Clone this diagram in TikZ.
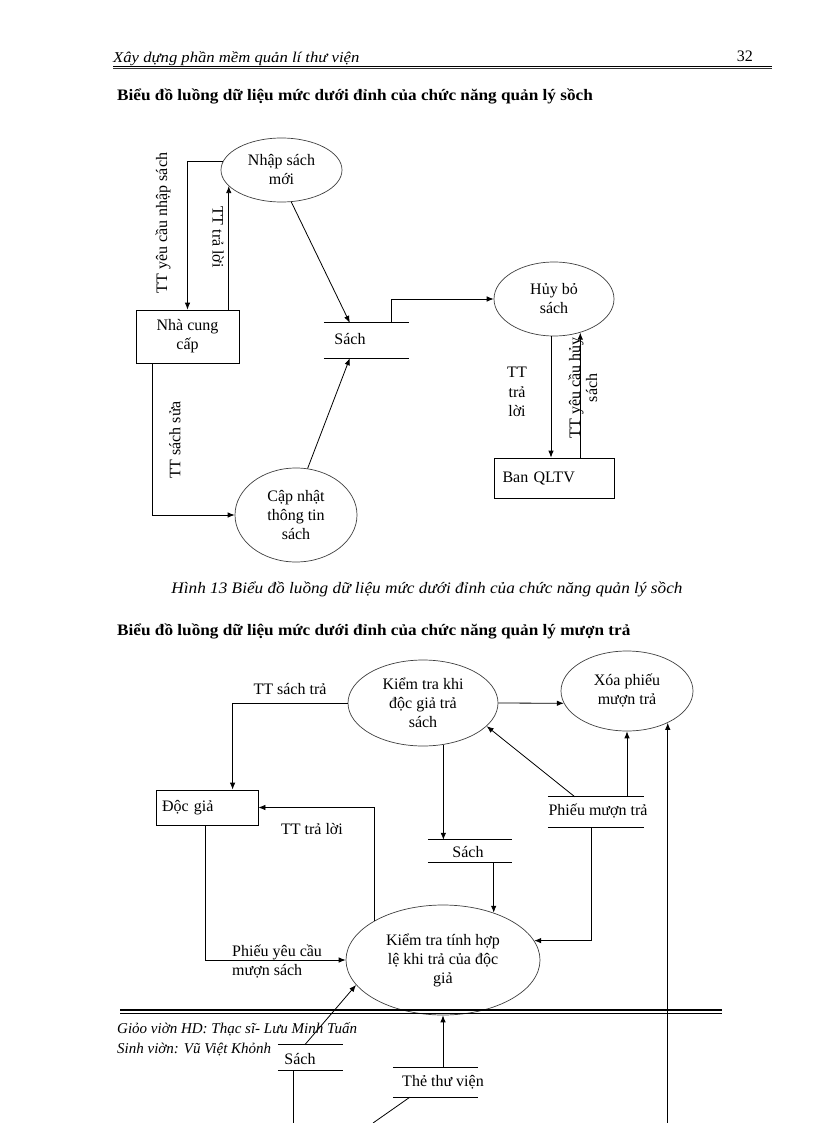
\documentclass[tikz,border=0pt]{standalone}
\usepackage{fontspec}
\setmainfont{Liberation Serif}
\usetikzlibrary{shapes.geometric,arrows.meta,calc}
\begin{document}
\begin{tikzpicture}[x=1pt,y=-1pt,
  every node/.style={font=\fontsize{16}{19}\selectfont, inner sep=0pt},
  proc/.style={draw=black!75, line width=0.7pt, ellipse, inner sep=0pt, align=center},
  ent/.style={draw, line width=0.8pt, rectangle},
  storebox/.style={rectangle, inner sep=0pt},
  flow/.style={line width=0.8pt, -{Latex[length=7pt,width=5.5pt]}},
  plain/.style={line width=0.8pt},
  storeline/.style={line width=0.8pt},
  headtext/.style={anchor=base west, font=\fontsize{16}{19}\selectfont\bfseries, xscale=1.075},
  foottext/.style={anchor=base west, font=\fontsize{15}{18}\selectfont\itshape},
]
\fill[white] (0,0) rectangle (816,1123);
\useasboundingbox (0,0) rectangle (816,1123);

% ---------- page header ----------
\node[anchor=base west, font=\fontsize{15}{18}\selectfont\itshape, xscale=1.11] (hd) at (113,63) {Xây dựng phần mềm quản lí thư viện};
\node[anchor=base east] (pg) at (753,62) {32};
\draw[line width=0.8pt] (113,66) -- (772,66);
\draw[line width=1.4pt, black!80] (113,68.5) -- (772,68.5);

\node[headtext] (h1) at (117,101) {Biểu đồ luồng dữ liệu mức dưới đỉnh của chức năng quản lý sồch};

% ---------- diagram 1 ----------
\node[proc, minimum width=121pt, minimum height=64pt] (e1) at (281.5,170) {Nhập sách\\mới};
\node[ent, minimum width=103pt, minimum height=53pt, align=center, inner sep=0pt] (b1) at (187.5,336.5) {Nhà cung\\cấp};
\node[storebox, minimum width=85pt, minimum height=35pt] (s1) at (366.5,340.5) {};
\node (s1t) at (350,339) {Sách};
\node[proc, minimum width=120pt, minimum height=74pt] (e2) at (554,299) {Hủy bỏ\\sách};
\node[ent, minimum height=40pt, text width=103pt, inner xsep=8.5pt, inner ysep=0pt, align=left] (b2) at (554,478) {Ban QLTV};
\node[proc, minimum width=122pt, minimum height=94pt] (e3) at (296,515) {Cập nhật\\thông tin\\sách};

\draw[storeline] (s1.north west) -- (s1.north east);
\draw[storeline] (s1.south west) -- (s1.south east);

\node[rotate=90] (l1) at (163,223) {TT yêu cầu nhập sách};
\node[rotate=-90] (l2) at (218,237) {TT trả lời};
\node[rotate=90] (l3) at (175,440) {TT sách sửa};
\node[align=center, font=\fontsize{16}{19.5}\selectfont] (l4) at (517,392) {TT\\trả\\lời};
\node[rotate=90, align=center, font=\fontsize{16}{17}\selectfont] (l5) at (583,388) {TT yêu cầu hủy\\sách};

\draw[flow] (e1.172) -| (b1.north);
\draw[flow] (b1.north -| e1.197) -- (e1.197);
\draw[flow] (e1.287) -- ($(s1.north west)+(26,0)$);
\draw[flow] (e3.76) -- ($(s1.south west)+(26,0)$);
\draw[flow] ($(s1.north west)+(68,0)$) |- (e2.west);
\draw[flow] ($(e2.south)+(-3,0)$) -- ($(b2.north)+(-3,0)$);
\draw[flow] (b2.north -| e2.-52) -- (e2.-52);
\draw[flow] ($(b1.south west)+(17,0)$) |- (e3.west);

\node[anchor=base, font=\fontsize{16}{19}\selectfont\itshape, xscale=1.076] (cap) at (427,593) {Hình 13 Biểu đồ luồng dữ liệu mức dưới đỉnh của chức năng quản lý sồch};

\node[headtext] (h2) at (117,635) {Biểu đồ luồng dữ liệu mức dưới đỉnh của chức năng quản lý mượn trả};

% ---------- diagram 2 ----------
\node[proc, minimum width=150pt, minimum height=86pt] (e4) at (423,703) {Kiểm tra khi\\độc giả trả\\sách};
\node[proc, minimum width=132pt, minimum height=80pt] (e5) at (627,691) {Xóa phiếu\\mượn trả};
\node[proc, minimum width=194pt, minimum height=110pt] (e6) at (443,960) {Kiểm tra tính hợp\\lệ khi trả của độc\\giả};
\node[ent, minimum height=35pt, text width=90pt, inner xsep=6pt, inner ysep=0pt, align=left] (b3) at (207,807.5) {Độc giả};

\node[storebox, minimum width=84pt, minimum height=22pt] (s2) at (470,851) {};
\node (s2t) at (468,852) {Sách};
\node[storebox, minimum width=96pt, minimum height=30pt] (s3) at (596,812) {};
\node (s3t) at (598,811) {Phiếu mượn trả};
\node[storebox, minimum width=65pt, minimum height=25pt] (s4) at (310.5,1057.5) {};
\node (s4t) at (300,1059) {Sách};
\node[storebox, minimum width=85pt, minimum height=29pt] (s5) at (435.5,1082.5) {};
\node (s5t) at (443,1082) {Thẻ thư viện};

\foreach \s in {s2,s3,s4,s5}{
  \draw[storeline] (\s.north west) -- (\s.north east);
  \draw[storeline] (\s.south west) -- (\s.south east);
}

\node (l6) at (290,689) {TT sách trả};
\node (l7) at (312,829) {TT trả lời};
\node[align=left, anchor=west] (l8) at (232,962) {Phiếu yêu cầu\\mượn sách};

\coordinate (bot1) at (667,1123);
\coordinate (bot2) at (373,1123);
\coordinate (bot3) at (293,1123);

\draw[flow] (e4.west) -| ($(b3.north west)+(77,0)$);
\draw[flow] (e6.150) |- (b3.east);
\draw[flow] ($(b3.south west)+(50,0)$) |- (e6.west);
\draw[flow] (e4.east) -- (e5.191);
\draw[flow] (e4.-64) -- (e4.-64 |- s2.north);
\draw[flow] (s2.south -| e6.43) -- (e6.43);
\draw[flow] ($(s3.north west)+(27,0)$) -- (e4.-20);
\draw[flow] (s3.north -| e5.south) -- (e5.south);
\draw[flow] ($(s3.south west)+(44,0)$) |- (e6.12);
\draw[flow] (e5.-38 |- bot1) -- (e5.-38);
\draw[flow] ($(s4.north west)+(27,0)$) -- (e6.196);
\draw[plain] (s4.south west -| bot3) -- (bot3);
\draw[flow] (s5.north -| e6.south) -- (e6.south);
\draw[plain] ($(s5.south west)+(17,0)$) -- (bot2);

% ---------- page footer ----------
\draw[line width=1.3pt] (120,1010) -- (722,1010);
\draw[line width=1.3pt] (120,1013.5) -- (722,1013.5);
\node[foottext] (f1) at (117,1033) {Giỏo viờn HD: Thạc sĩ- Lưu Minh Tuấn};
\node[foottext] (f2) at (117,1053) {Sinh viờn: Vũ Việt Khỏnh};
\end{tikzpicture}
\end{document}
